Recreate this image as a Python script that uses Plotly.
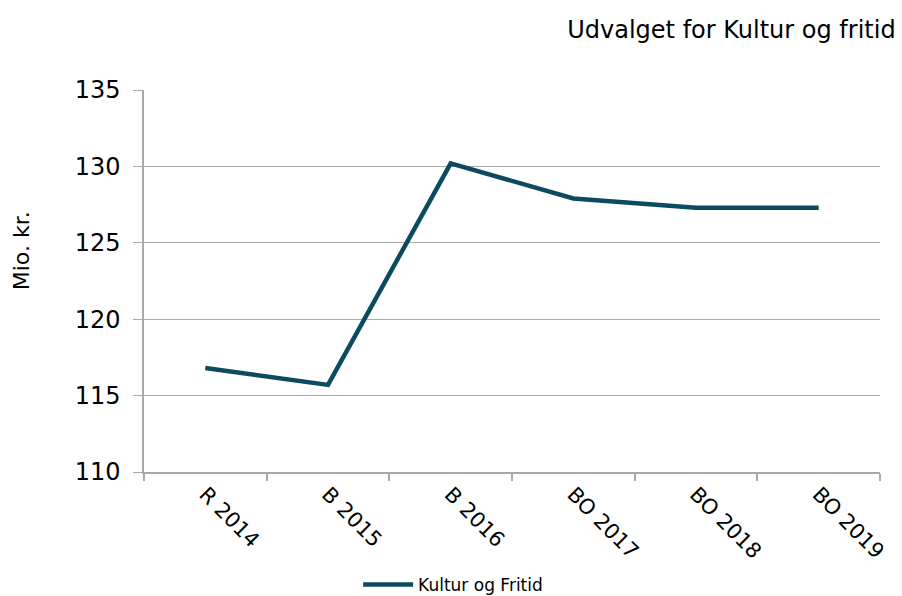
import plotly.graph_objects as go

categories = ["R 2014", "B 2015", "B 2016", "BO 2017", "BO 2018", "BO 2019"]
values = [116.8, 115.7, 130.2, 127.9, 127.3, 127.3]
series_name = "Kultur og Fritid"
y_ticks = [110, 115, 120, 125, 130, 135]

FONT = "DejaVu Sans"
GRID = "#a9a9a9"
LINE = "#0c4a5f"

fig = go.Figure()
fig.add_trace(go.Scatter(
    x=categories, y=values, mode="lines", name=series_name,
    line=dict(color=LINE, width=4.5),
))

fig.update_layout(
    width=902, height=596,
    margin=dict(l=144, r=22, t=90, b=124, autoexpand=False),
    paper_bgcolor="white", plot_bgcolor="white",
    font=dict(family=FONT, color="#000000"),
    title=dict(text="Udvalget for Kultur og fritid", xref="container", x=0.993,
               xanchor="right", y=0.95, yanchor="middle",
               font=dict(family=FONT, size=24, color="#000000")),
    showlegend=True,
    legend=dict(orientation="h", x=0.42, xanchor="center", y=-0.296, yanchor="middle",
                font=dict(family=FONT, size=17), itemwidth=50,
                bgcolor="rgba(0,0,0,0)"),
)

fig.update_xaxes(
    type="category", range=[-0.5, 5.5], automargin=False,
    showgrid=False, showline=True, linecolor=GRID, linewidth=1.5,
    ticks="outside", tickson="boundaries", ticklen=7, tickcolor=GRID, tickwidth=1.5,
    tickangle=45, tickfont=dict(family=FONT, size=21),
)
fig.update_yaxes(
    range=[110, 135], tickvals=y_ticks, automargin=False,
    showgrid=True, gridcolor=GRID, gridwidth=1.2,
    showline=True, linecolor=GRID, linewidth=1.5,
    ticks="outside", ticklen=9, tickcolor=GRID, tickwidth=1.2,
    tickfont=dict(family=FONT, size=24), ticklabelstandoff=8,
    zeroline=False,
)

fig.add_annotation(text="Mio. kr.", xref="paper", yref="paper",
                   x=-0.166, y=0.58, xanchor="center", yanchor="middle",
                   textangle=-90, showarrow=False,
                   font=dict(family=FONT, size=22, color="#000000"))

fig.write_html("out.html")
